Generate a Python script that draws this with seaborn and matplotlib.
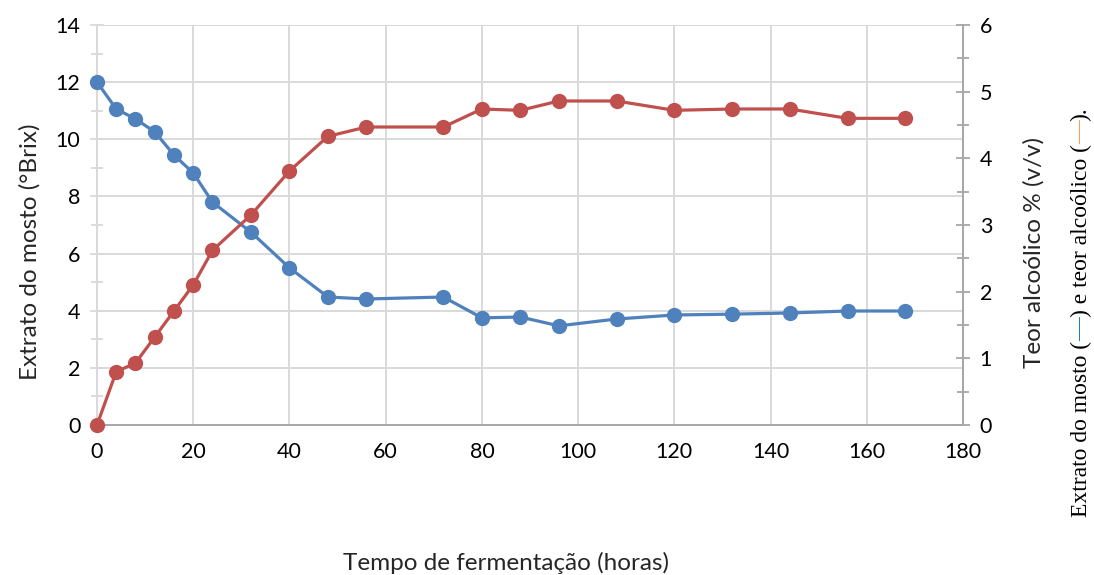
import numpy as np
import pandas as pd
import matplotlib
matplotlib.use("Agg")
import matplotlib.pyplot as plt
import seaborn as sns
from matplotlib.ticker import MultipleLocator

# Dados
tempo = [0, 4, 8, 12, 16, 20, 24, 32, 40, 48, 56, 72, 80, 88, 96, 108, 120, 132, 144, 156, 168]
extrato = [12.0, 11.06, 10.71, 10.26, 9.45, 8.82, 7.8, 6.75, 5.5, 4.48, 4.41, 4.48,
           3.75, 3.78, 3.47, 3.71, 3.85, 3.88, 3.92, 3.99, 3.99]
teor = [0.0, 0.8, 0.93, 1.32, 1.71, 2.1, 2.62, 3.15, 3.81, 4.33, 4.47, 4.47,
        4.74, 4.72, 4.86, 4.86, 4.72, 4.74, 4.74, 4.6, 4.6]

df = pd.DataFrame({"tempo": tempo, "extrato": extrato, "teor": teor})

sns.set_style("white")
plt.rcParams["font.family"] = ["Lato", "DejaVu Sans"]

azul = "#4F81BD"
vermelho = "#C0504D"
grade = "#D9D9D9"
eixo = "#A6A6A6"

fig = plt.figure(figsize=(10.94, 5.75), dpi=100)
ax = fig.add_axes([97 / 1094, 1 - 425 / 575, (963 - 97) / 1094, 400 / 575])
ax2 = ax.twinx()

sns.lineplot(data=df, x="tempo", y="extrato", ax=ax, color=azul, marker="o",
             markersize=11, linewidth=2.3, markeredgewidth=0, zorder=3, clip_on=False)
sns.lineplot(data=df, x="tempo", y="teor", ax=ax2, color=vermelho, marker="o",
             markersize=11, linewidth=2.3, markeredgewidth=0, zorder=3, clip_on=False)

ax.set_xlim(0, 180)
ax.set_ylim(0, 14)
ax2.set_ylim(0, 6)
ax.xaxis.set_major_locator(MultipleLocator(20))
ax.xaxis.set_minor_locator(MultipleLocator(10))
ax.yaxis.set_major_locator(MultipleLocator(2))
ax.yaxis.set_minor_locator(MultipleLocator(1))
ax2.yaxis.set_major_locator(MultipleLocator(1))
ax2.yaxis.set_minor_locator(MultipleLocator(0.5))

ax.grid(True, which="major", color=grade, linewidth=1.4)
ax.set_axisbelow(True)

ax.spines["top"].set_visible(False)
ax2.spines["top"].set_visible(False)
ax.spines["left"].set_color(grade)
ax.spines["bottom"].set_color(eixo)
ax2.spines["left"].set_visible(False)
ax2.spines["bottom"].set_visible(False)
ax.spines["right"].set_visible(False)
ax2.spines["right"].set_color(eixo)
for a in (ax, ax2):
    for s in a.spines.values():
        s.set_linewidth(1.4)

ax.tick_params(axis="both", which="both", direction="inout", color=eixo, width=1.3,
               labelsize=15.5, labelcolor="black")
ax.tick_params(axis="both", which="major", length=10, pad=7)
ax.tick_params(axis="both", which="minor", length=8)
ax.tick_params(axis="y", which="both", color=grade)
ax2.tick_params(axis="y", which="both", direction="inout", color=eixo, width=1.3,
                labelsize=15.5, labelcolor="black")
ax2.tick_params(axis="y", which="major", length=10, pad=7)
ax2.tick_params(axis="y", which="minor", length=8)

ax.set_xlabel("")
ax.set_ylabel("")
ax2.set_ylabel("")

fig.text(506 / 1094, 1 - 563 / 575, "Tempo de fermentação (horas)", ha="center",
         va="center", fontsize=17.5)
fig.text(30 / 1094, 1 - 252 / 575, "Extrato do mosto (°Brix)", ha="center",
         va="center", rotation=90, fontsize=17.5)
fig.text(1034 / 1094, 1 - 253 / 575, "Teor alcoólico % (v/v)", ha="center",
         va="center", rotation=90, fontsize=17.5)

# Legenda vertical em fonte serifada, montada por partes coloridas
partes = [("Extrato do mosto (", "black"), ("—", "#0070C0"),
          (") e teor alcoólico (", "black"), ("—", "#F79646"), (").", "black")]
fig.canvas.draw()
renderer = fig.canvas.get_renderer()
y0 = 1 - 517 / 575
for texto, cor in partes:
    t = fig.text(1081 / 1094, y0, texto, rotation=90, ha="center", va="bottom",
                 fontsize=17, color=cor, family=["Liberation Serif", "DejaVu Serif"])
    bb = t.get_window_extent(renderer)
    y0 += bb.height / fig.bbox.height

fig.savefig("out.png", dpi=100)
